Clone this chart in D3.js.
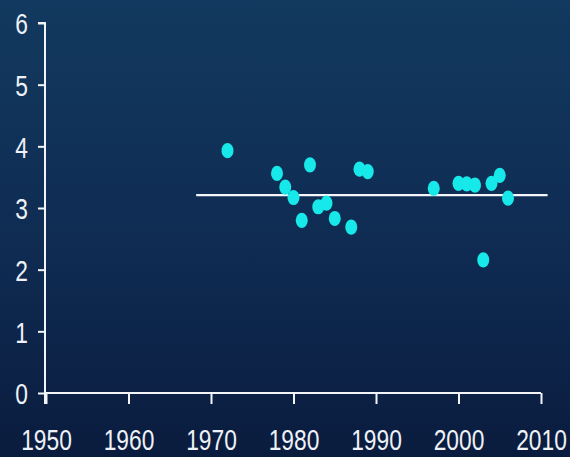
<!DOCTYPE html>
<html>
<head>
<meta charset="utf-8">
<script src="https://cdn.jsdelivr.net/npm/d3@7"></script>
<style>
  html, body { margin: 0; padding: 0; background: #0c2145; }
  svg { display: block; }
</style>
</head>
<body>
<svg id="chart" width="570" height="457"></svg>
<script>
// Observations: year and measured value
const years  = [1972, 1978, 1979, 1980, 1981, 1982, 1983, 1984, 1985, 1987,
                1988, 1989, 1997, 2000, 2001, 2002, 2003, 2004, 2005, 2006];
const values = [3.93, 3.56, 3.34, 3.17, 2.80, 3.70, 3.02, 3.08, 2.83, 2.69,
                3.63, 3.59, 3.32, 3.40, 3.39, 3.37, 2.16, 3.40, 3.53, 3.16];

// Horizontal reference level and the span of years it covers
const meanLevel = 3.21;
const meanSpan = [1968.2, 2010.8];

// Axis ticks
const xTicks = [1950, 1960, 1970, 1980, 1990, 2000, 2010];
const yTicks = [0, 1, 2, 3, 4, 5, 6];

const svg = d3.select("#chart");
const W = 570, H = 457;
const labelFont = '"Liberation Sans", Arial, sans-serif';
const squeeze = 0.76;   // condensed look for the tick labels

// Background gradient
const defs = svg.append("defs");
const grad = defs.append("linearGradient")
  .attr("id", "bg").attr("x1", 0).attr("y1", 0).attr("x2", 0).attr("y2", 1);
grad.append("stop").attr("offset", "0%").attr("stop-color", "#12395f");
grad.append("stop").attr("offset", "55%").attr("stop-color", "#0f2b52");
grad.append("stop").attr("offset", "100%").attr("stop-color", "#0a1c3e");
svg.append("rect").attr("width", W).attr("height", H).attr("fill", "url(#bg)");

const x = d3.scaleLinear().domain([1950, 2010]).range([46, 541]);
const y = d3.scaleLinear().domain([0, 6]).range([393, 23]);

// Y axis
const yAxis = svg.append("g").attr("transform", `translate(${x(1950) - 1},0)`)
  .call(d3.axisLeft(y).tickValues(yTicks).tickSize(7).tickPadding(10).tickFormat(d3.format("d")));
yAxis.select(".domain").attr("d", `M-7,${y(6)}H0V${y(0) + 11}`);

// X axis
const xAxis = svg.append("g").attr("transform", `translate(0,${y(0)})`)
  .call(d3.axisBottom(x).tickValues(xTicks).tickSize(11).tickPadding(46).tickFormat(d3.format("d")));
xAxis.select(".domain").attr("d", `M${x(1950) - 1},0H${x(2010)}`);

svg.selectAll(".domain, .tick line")
  .attr("stroke", "#f2f4f8").attr("stroke-width", 2);

// Tick labels: condensed horizontally about their anchor point
svg.selectAll(".tick text")
  .attr("font-size", 30).attr("fill", "#eef1f6")
  .attr("font-family", labelFont);
yAxis.selectAll(".tick text").attr("dy", "0.36em");
xAxis.selectAll(".tick text").attr("dy", "0");
svg.selectAll(".tick text").each(function () {
  const t = d3.select(this);
  const tx = +t.attr("x") || 0, ty = +t.attr("y") || 0;
  t.attr("x", 0).attr("y", 0)
   .attr("transform", `translate(${tx},${ty}) scale(${squeeze},1)`);
});

// Reference line
svg.append("line")
  .attr("x1", x(meanSpan[0])).attr("x2", x(meanSpan[1]))
  .attr("y1", y(meanLevel)).attr("y2", y(meanLevel))
  .attr("stroke", "#f4f6fa").attr("stroke-width", 2.2);

// Data points
const pts = years.map((yr, i) => ({ yr, v: values[i] }));
svg.append("g").selectAll("ellipse").data(pts).join("ellipse")
  .attr("cx", d => x(d.yr))
  .attr("cy", d => y(d.v))
  .attr("rx", 6).attr("ry", 7.6)
  .attr("fill", "#17e8ea");
</script>
</body>
</html>
